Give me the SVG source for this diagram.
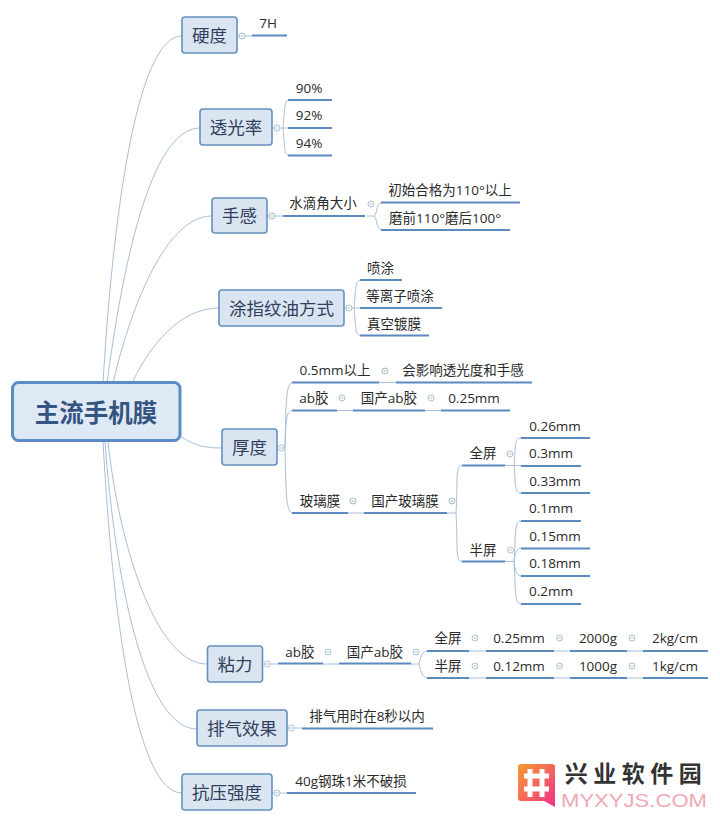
<svg xmlns="http://www.w3.org/2000/svg" width="720" height="822" viewBox="0 0 720 822">
<style>
text{font-family:"Open Sans","Noto Sans CJK SC",sans-serif;text-anchor:middle}
.b{fill:#dbe5f2;stroke:#6490bf;stroke-width:1.6}
.t{font-size:17.5px;fill:#2f3f5c}
.l{font-size:13.5px;fill:#2a2a2a}
.u{stroke:#5b8abf;stroke-width:2;fill:none}
.c{stroke:#a8c0d8;stroke-width:1;fill:none}
.k{fill:#fff;stroke:#a8c0d0;stroke-width:1}
.m{stroke:#a8c0d0;stroke-width:1}
</style>
<defs>
<linearGradient id="wg" x1="0" y1="0" x2="1" y2="1"><stop offset="0" stop-color="#f79a2e"/><stop offset="1" stop-color="#f0328c"/></linearGradient>
<g id="tg"><circle r="3" class="k"/><path d="M-1.5 0H1.5" class="m"/></g>
</defs>
<rect width="720" height="822" fill="#fff"/>
<g id="connectors">
<path class="c" d="M103 383C112 230 135 36 182 36"/>
<path class="c" d="M107 383C122 270 150 128 200 128"/>
<path class="c" d="M113 383C130 310 165 216 212 216"/>
<path class="c" d="M132 383C150 345 180 308 219 308"/>
<path class="c" d="M180 436C195 446 205 448 222 448"/>
<path class="c" d="M108 441C118 540 155 664 207 664"/>
<path class="c" d="M105 441C115 580 145 729 197 729"/>
<path class="c" d="M103 441C112 610 135 793 182 793"/>
<path class="c" d="M237 36H252M267 216H283M272 128H288M344 308H354M277 448H285M262 664H278M287 728H302M272 793H287"/>
<path class="c" d="M283 128C285 108 284 100 289 100M283 128C285 148 284 155 289 155"/>
<path class="c" d="M367 216H374C377 216 376 202.500 382 202.500M374 216C377 216 376 230 382 230"/>
<path class="c" d="M354 308C356 288 355 280 361 280M354 308H360M354 308C356 328 355 335.500 361 335.500"/>
<path class="c" d="M285 448C286 400 286 382.500 293 382.500M285 448C286 420 286 410.500 293 410.500M285 448C286 495 286 513 293 513"/>
<path class="c" d="M379 382.500H396M337 410.500H353M425 410.500H441M348 513H364M447 513H456"/>
<path class="c" d="M456 513C458 480 455 465.500 462 465.500M456 513C458 545 455 561.500 462 561.500"/>
<path class="c" d="M505 465.500H514M514 465.500C516 445 514 438 521 438M514 465.500H521M514 465.500C516 485 514 493 521 493"/>
<path class="c" d="M505 561.500H514M514 561.500C516 535 514 521 521 521M514 561.500C515 555 516 548 521 548M514 561.500C515 568 516 576 521 576M514 561.500C516 590 514 604 521 604"/>
<path class="c" d="M323 664H339M411 664H419M419 664C421 655 423 651 427 651M419 664C421 672 423 678 427 678"/>
<path class="c" d="M469 651H486M554 651H570M627 651H643M469 678H486M554 678H570M627 678H643"/>
</g>
<g id="root"><rect x="12.500" y="382.500" width="167.500" height="58" rx="6" fill="#dfe8f5" stroke="#5c8cc6" stroke-width="3"/><text x="96" y="422" font-size="24.500" font-weight="700" fill="#34547f">主流手机膜</text></g>
<g id="n1"><rect class="b" x="182" y="17" width="55" height="36" rx="3"/><text class="t" x="209.500" y="42">硬度</text><use href="#tg" x="242" y="36"/></g>
<g id="n2"><rect class="b" x="200" y="109" width="72" height="36" rx="3"/><text class="t" x="236" y="134">透光率</text><use href="#tg" x="277" y="128"/></g>
<g id="n3"><rect class="b" x="212" y="198" width="55" height="35" rx="3"/><text class="t" x="239.500" y="222">手感</text><use href="#tg" x="272" y="216"/></g>
<g id="n4"><rect class="b" x="219" y="290" width="125" height="36" rx="3"/><text class="t" x="281.500" y="315">涂指纹油方式</text><use href="#tg" x="349" y="308"/></g>
<g id="n5"><rect class="b" x="222" y="429" width="55" height="36" rx="3"/><text class="t" x="249.500" y="454">厚度</text><use href="#tg" x="281" y="448"/></g>
<g id="n6"><rect class="b" x="207.500" y="646" width="55" height="36" rx="3"/><text class="t" x="235" y="671">粘力</text><use href="#tg" x="267.500" y="664"/></g>
<g id="n7"><rect class="b" x="197" y="710" width="90" height="36" rx="3"/><text class="t" x="242" y="735">排气效果</text><use href="#tg" x="291.500" y="728"/></g>
<g id="n8"><rect class="b" x="182" y="774" width="90" height="36" rx="3"/><text class="t" x="227" y="799">抗压强度</text><use href="#tg" x="277" y="793"/></g>
<g id="leaf-7h"><path class="u" d="M252 35.500H287"/><text class="l" x="268" y="28">7H</text></g>
<g id="leaf-90"><path class="u" d="M288 100H332"/><text class="l" x="309" y="93">90%</text></g>
<g id="leaf-92"><path class="u" d="M288 128H332"/><text class="l" x="309" y="120">92%</text></g>
<g id="leaf-94"><path class="u" d="M288 155.500H332"/><text class="l" x="309" y="148">94%</text></g>
<g id="leaf-water"><path class="u" d="M283 216H365"/><text class="l" x="323" y="208">水滴角大小</text><use href="#tg" x="371" y="204"/></g>
<g id="leaf-w1"><path class="u" d="M381 202.500H520"/><text class="l" x="450" y="195">初始合格为110°以上</text></g>
<g id="leaf-w2"><path class="u" d="M381 230H510"/><text class="l" x="445" y="223">磨前110°磨后100°</text></g>
<g id="leaf-p1"><path class="u" d="M360 280H402"/><text class="l" x="380.500" y="273">喷涂</text></g>
<g id="leaf-p2"><path class="u" d="M360 308H442"/><text class="l" x="400" y="301">等离子喷涂</text></g>
<g id="leaf-p3"><path class="u" d="M360 335.500H429"/><text class="l" x="394" y="329">真空镀膜</text></g>
<g id="leaf-05"><path class="u" d="M292 382.500H379"/><text class="l" x="335" y="375">0.5mm以上</text><use href="#tg" x="385" y="371"/></g>
<g id="leaf-05b"><path class="u" d="M396 382.500H532"/><text class="l" x="463" y="375">会影响透光度和手感</text></g>
<g id="leaf-ab"><path class="u" d="M292 410.500H337"/><text class="l" x="314" y="403">ab胶</text><use href="#tg" x="342" y="398"/></g>
<g id="leaf-abc"><path class="u" d="M353 410.500H425"/><text class="l" x="389" y="403">国产ab胶</text><use href="#tg" x="431" y="398"/></g>
<g id="leaf-025"><path class="u" d="M441 410.500H510"/><text class="l" x="474" y="403">0.25mm</text></g>
<g id="leaf-glass"><path class="u" d="M292 513H348"/><text class="l" x="320" y="506">玻璃膜</text><use href="#tg" x="353" y="501"/></g>
<g id="leaf-glassc"><path class="u" d="M364 513H447"/><text class="l" x="405" y="506">国产玻璃膜</text><use href="#tg" x="452" y="501"/></g>
<g id="leaf-full"><path class="u" d="M462 465.500H505"/><text class="l" x="483" y="458">全屏</text><use href="#tg" x="510" y="454"/></g>
<g id="leaf-half"><path class="u" d="M462 561.500H505"/><text class="l" x="483" y="555">半屏</text><use href="#tg" x="510.500" y="550"/></g>
<g id="leaf-a"><path class="u" d="M521 438H590"/><text class="l" x="555" y="431">0.26mm</text></g>
<g id="leaf-b"><path class="u" d="M521 466H581"/><text class="l" x="551" y="458">0.3mm</text></g>
<g id="leaf-c"><path class="u" d="M521 493H590"/><text class="l" x="555" y="486">0.33mm</text></g>
<g id="leaf-d"><path class="u" d="M521 521H581"/><text class="l" x="551" y="513">0.1mm</text></g>
<g id="leaf-e"><path class="u" d="M521 548.500H590"/><text class="l" x="555" y="541">0.15mm</text></g>
<g id="leaf-f"><path class="u" d="M521 576H590"/><text class="l" x="555" y="568">0.18mm</text></g>
<g id="leaf-g"><path class="u" d="M521 604H581"/><text class="l" x="551" y="596">0.2mm</text></g>
<g id="leaf-vab"><path class="u" d="M278 663.500H323"/><text class="l" x="300" y="657">ab胶</text><use href="#tg" x="328" y="652"/></g>
<g id="leaf-vabc"><path class="u" d="M339 663.500H411"/><text class="l" x="375" y="657">国产ab胶</text><use href="#tg" x="416" y="652"/></g>
<g id="leaf-vf"><path class="u" d="M427 651H469"/><text class="l" x="448" y="643">全屏</text><use href="#tg" x="475" y="638"/></g>
<g id="leaf-vf2"><path class="u" d="M486 651H554"/><text class="l" x="519" y="643">0.25mm</text><use href="#tg" x="559.500" y="638"/></g>
<g id="leaf-vf3"><path class="u" d="M570 651H627"/><text class="l" x="598" y="643">2000g</text><use href="#tg" x="632" y="638"/></g>
<g id="leaf-vf4"><path class="u" d="M643 651H708"/><text class="l" x="675" y="643">2kg/cm</text></g>
<g id="leaf-vh"><path class="u" d="M427 678H469"/><text class="l" x="448" y="671">半屏</text><use href="#tg" x="475" y="666"/></g>
<g id="leaf-vh2"><path class="u" d="M486 678H554"/><text class="l" x="519" y="671">0.12mm</text><use href="#tg" x="559.500" y="666"/></g>
<g id="leaf-vh3"><path class="u" d="M570 678H627"/><text class="l" x="598" y="671">1000g</text><use href="#tg" x="632" y="666"/></g>
<g id="leaf-vh4"><path class="u" d="M643 678H708"/><text class="l" x="675" y="671">1kg/cm</text></g>
<g id="leaf-air"><path class="u" d="M302 728.500H433"/><text class="l" x="367" y="721">排气用时在8秒以内</text></g>
<g id="leaf-press"><path class="u" d="M287 793H416"/><text class="l" x="351" y="786">40g钢珠1米不破损</text></g>
<g id="watermark">
<path d="M521 764H552a3 3 0 0 1 3 3V807L544 801H521a3 3 0 0 1-3-3V767a3 3 0 0 1 3-3Z" fill="url(#wg)"/>
<path d="M530 769V797M542 769V797M524 776H549M524 789H549" stroke="#fff" stroke-width="5" fill="none"/>
<text x="636" y="782" font-size="23" font-weight="700" fill="#333" letter-spacing="5.500">兴业软件园</text>
<text x="634" y="807" font-size="18" fill="#f0a8b4" style="font-family:'Liberation Sans',sans-serif" textLength="146" lengthAdjust="spacingAndGlyphs">MYXYJS.COM</text>
</g>
</svg>
